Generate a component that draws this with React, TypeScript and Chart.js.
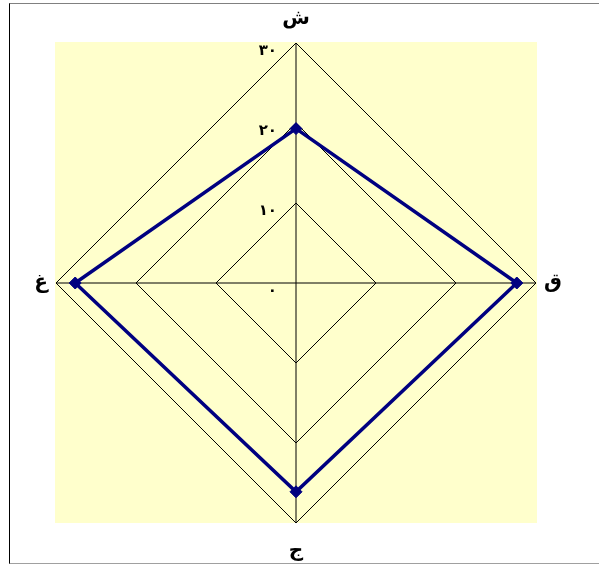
import React, { useEffect, useRef } from "react";
import { Chart, registerables } from "chart.js";

Chart.register(...registerables);

// Data
const categories: string[] = ["ش", "ق", "ج", "غ"];
const seriesValues: number[] = [19.3, 27.6, 26.1, 27.6];
const tickValues: number[] = [0, 10, 20, 30];
const tickLabels: string[] = ["٠", "١٠", "٢٠", "٣٠"];
const labelPadding: number[] = [12, 8, 16, 8];

const plotBgPlugin = {
  id: "plotBg",
  beforeDraw(chart: any) {
    const r = chart.scales.r;
    if (!r) return;
    const ctx = chart.ctx;
    const d = r.drawingArea;
    ctx.save();
    ctx.fillStyle = "#FFFFCC";
    ctx.fillRect(r.xCenter - d - 1, r.yCenter - d - 1, 2 * d + 2, 2 * d + 1);
    ctx.restore();
  },
};

const tickLabelPlugin = {
  id: "tickLabelsLeft",
  beforeDatasetsDraw(chart: any) {
    const r = chart.scales.r;
    if (!r) return;
    const ctx = chart.ctx;
    ctx.save();
    ctx.fillStyle = "#000";
    ctx.font = "bold 15px 'DejaVu Sans', Arial, sans-serif";
    ctx.textAlign = "right";
    ctx.textBaseline = "middle";
    r.ticks.forEach((t: any, i: number) => {
      const dist = r.getDistanceFromCenterForValue(t.value);
      ctx.fillText(tickLabels[i] ?? String(t.label), r.xCenter - 19, r.yCenter - dist + 8);
    });
    ctx.restore();
  },
};

export default function App() {
  const ref = useRef<HTMLCanvasElement | null>(null);

  useEffect(() => {
    if (!ref.current) return;
    const chart = new Chart(ref.current, {
      type: "radar",
      data: {
        labels: categories,
        datasets: [
          {
            data: seriesValues,
            borderColor: "#000080",
            backgroundColor: "#000080",
            borderWidth: 3.5,
            fill: false,
            pointStyle: "rectRot",
            pointRadius: 6,
            pointBorderWidth: 1,
            pointBackgroundColor: "#000080",
            pointBorderColor: "#000080",
          },
        ],
      },
      plugins: [plotBgPlugin, tickLabelPlugin],
      options: {
        responsive: false,
        animation: false,
        devicePixelRatio: 1,
        layout: { padding: { top: 5, bottom: 1, left: 0, right: 0 } },
        plugins: { legend: { display: false }, tooltip: { enabled: false } },
        elements: { line: { tension: 0 } },
        scales: {
          r: {
            min: tickValues[0],
            max: tickValues[tickValues.length - 1],
            ticks: {
              stepSize: 10,
              display: false,
              callback: (_v: any, i: number) => tickLabels[i],
            },
            grid: { color: "#000", lineWidth: 1, circular: false },
            angleLines: { color: "#000", lineWidth: 1 },
            pointLabels: {
              color: "#000",
              font: { size: 20, weight: "bold", family: "'DejaVu Sans', Arial, sans-serif", lineHeight: 1.2 },
              padding: (ctx: any) => labelPadding[ctx.index],
            },
          },
        },
      } as any,
    });
    return () => chart.destroy();
  }, []);

  return (
    <div style={{ position: "fixed", left: 0, top: 0, width: 599, height: 564, overflow: "hidden", background: "#fff" }}>
      <div
        style={{
          position: "absolute",
          left: 9,
          top: 3,
          width: 700,
          height: 561,
          boxSizing: "border-box",
          borderTop: "1px solid #808080",
          borderLeft: "1px solid #000",
          borderBottom: "1px solid #a0a0a0",
        }}
      />
      <canvas
        ref={ref}
        width={612}
        height={566}
        style={{ position: "absolute", left: -10, top: 0, width: 612, height: 566 }}
      />
    </div>
  );
}
